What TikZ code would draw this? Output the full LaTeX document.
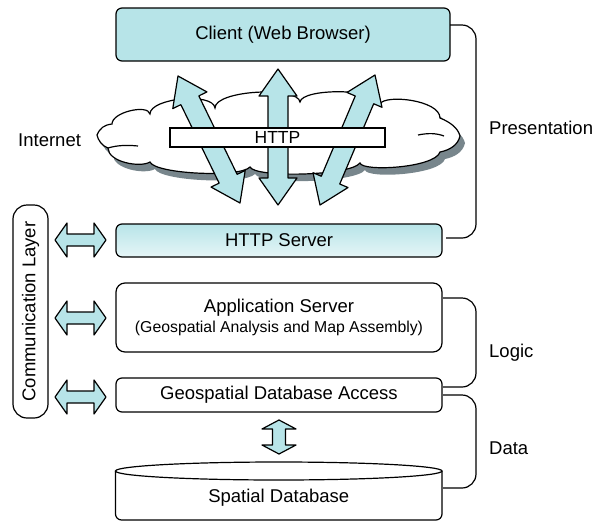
\documentclass[tikz,border=0pt]{standalone}
\usepackage{fontspec}
\setmainfont{Liberation Sans}
\usetikzlibrary{calc}
\definecolor{cy}{RGB}{183,228,232}
\definecolor{shd}{RGB}{120,134,140}
\newcommand\blockarr[5]{%
  \path let \p1=($(#2)-(#1)$) in \pgfextra{\pgfmathsetmacro\barang{atan2(\y1,\x1)}\pgfmathsetmacro\barlen{veclen(\x1,\y1)}\global\let\barang\barang\global\let\barlen\barlen};
  \draw[blk,shift={(#1)},rotate=\barang] (0,0) -- (#5,#4) -- (#5,#3) -- (\barlen-#5,#3) -- (\barlen-#5,#4) -- (\barlen,0) -- (\barlen-#5,-#4) -- (\barlen-#5,-#3) -- (#5,-#3) -- (#5,-#4) -- cycle;}
\newcommand\cloudpath{(97,135)
 .. controls (100,128) and (104,125) .. (112,124)
 .. controls (112,112) and (148,104) .. (150,114)
 .. controls (150,98) and (213,92) .. (215,108)
 .. controls (215,90) and (298,86) .. (300,102)
 .. controls (302,88) and (378,88) .. (380,104)
 .. controls (385,94) and (440,100) .. (440,118)
 .. controls (450,122) and (458,128) .. (460,136)
 .. controls (458,145) and (450,150) .. (440,152)
 .. controls (435,168) and (362,172) .. (360,163)
 .. controls (350,176) and (255,178) .. (250,167)
 .. controls (240,178) and (155,174) .. (150,162)
 .. controls (140,168) and (108,162) .. (108,148)
 .. controls (102,146) and (98,140) .. (97,135) -- cycle}
\tikzset{
  lw/.style={line width=1.2pt},
  box/.style={draw, lw, rounded corners=6pt, inner sep=0pt, align=center},
  blk/.style={draw, lw, fill=cy, line join=round},
  brace/.style={draw, lw, rounded corners=14pt},
  lbl/.style={inner sep=0pt},
  every node/.style={font=\fontsize{18.5}{22}\selectfont},
}
\begin{document}
\begin{tikzpicture}[x=1pt,y=-1pt]
\useasboundingbox (0,0) rectangle (606,523);
% client
\node[box, fill=cy, minimum width=334, minimum height=53] (client) at (283,34.5) {Client (Web Browser)};
% cloud with shadow
\fill[shd, shift={(5,7)}] \cloudpath;
\draw[lw, fill=white] \cloudpath;
\draw[lw] (108,148) .. controls (118,145) and (128,145) .. (138,146);
\draw[lw] (418,135) .. controls (428,133) and (436,133) .. (444,136);
\coordinate (cloud) at (278.5,134);
% big arrows
\coordinate (m1) at (278,69);  \coordinate (m2) at (278,205);
\coordinate (L1) at (178,76);  \coordinate (L2) at (240,203);
\coordinate (R1) at (375,75);  \coordinate (R2) at (320,205);
\blockarr{m1}{m2}{10}{19}{27}
\blockarr{L1}{L2}{10}{19}{27}
\blockarr{R1}{R2}{10}{19}{27}
% HTTP bar
\node[draw, lw, fill=white, minimum width=215, minimum height=19, inner sep=0pt, font=\fontsize{17.5}{20}\selectfont] (http) at (277.5,137.5) {HTTP};
\node[lbl, anchor=west] (internet) at (18,140) {Internet};
% server boxes
\node[box, top color=cy, bottom color=cy!35, minimum width=326, minimum height=33] (hserver) at (279,240.5) {HTTP Server};
\node[box, fill=white, rounded corners=9pt, minimum width=326, minimum height=69] (app) at (279,317.5)
  {Application Server\\[-2pt]{\fontsize{15.8}{18}\selectfont (Geospatial Analysis and Map Assembly)}};
\node[box, fill=white, minimum width=326, minimum height=34] (access) at (279,395) {Geospatial Database Access};
% database
\draw[lw, fill=white, rounded corners=6pt] (115.5,471) -- (115.5,520) -- (442,520) -- (442,471);
\draw[lw, fill=white] (278.75,471) ellipse [x radius=163.25, y radius=9];
\node[lbl] (db) at (278.75,498) {Spatial Database};
\coordinate (sa) at (279,420); \coordinate (sb) at (279,454);
\blockarr{sa}{sb}{6.5}{17}{9}
% communication layer
\node[box, rounded corners=14pt, minimum width=213, minimum height=35, rotate=90] (comm) at (30.5,311.5) {Communication Layer};
\coordinate (a1) at (55,240); \coordinate (b1) at (106,240);
\coordinate (a2) at (55,318); \coordinate (b2) at (106,318);
\coordinate (a3) at (55,397); \coordinate (b3) at (106,397);
\blockarr{a1}{b1}{6}{17}{12}
\blockarr{a2}{b2}{6}{17}{12}
\blockarr{a3}{b3}{6}{17}{12}
% braces
\draw[brace] (450,25) -- (476,25) -- (476,238) -- (446,238);
\draw[brace] (443,298) -- (476,298) -- (476,387) -- (443,387);
\draw[brace] (443,395) -- (476,395) -- (476,488) -- (443,488);
\node[lbl, anchor=west] (pres) at (489,128) {Presentation};
\node[lbl, anchor=west] (logic) at (489,353) {Logic};
\node[lbl, anchor=west] (data) at (489,448) {Data};
\end{tikzpicture}
\end{document}
